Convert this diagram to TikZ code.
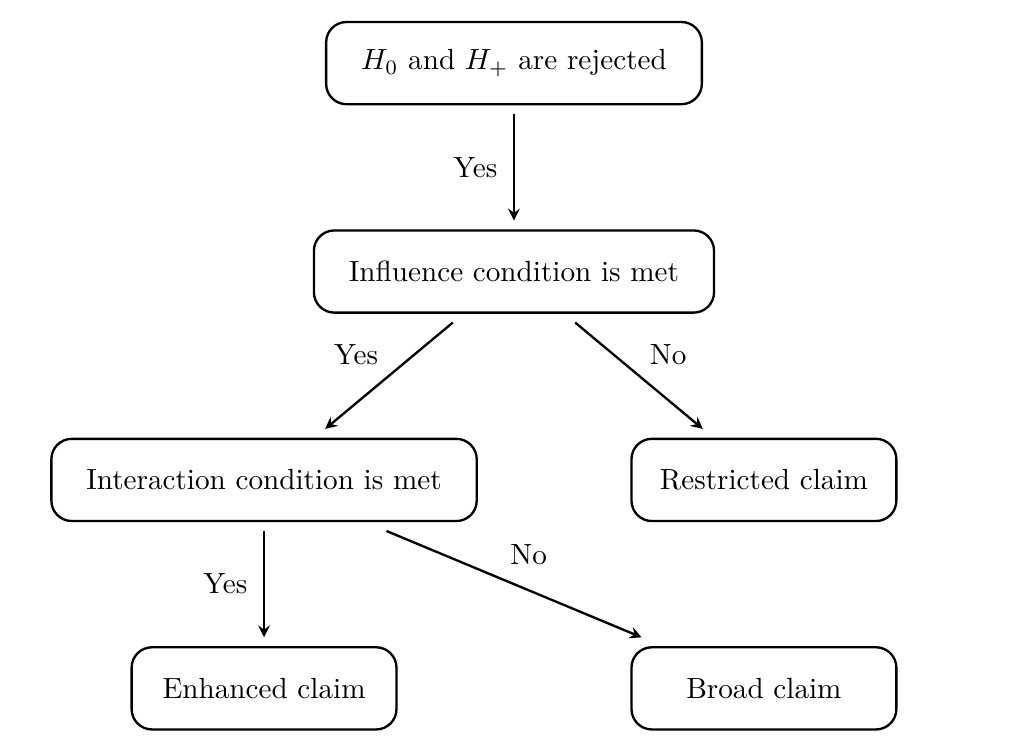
\documentclass[tikz,border=0pt]{standalone}
\usetikzlibrary{positioning}
\begin{document}
\begin{tikzpicture}[
  box/.style={draw, thick, rounded corners=7pt, minimum height=0.99cm, inner xsep=12pt, outer sep=3.4pt},
  claim/.style={box, minimum width=3.19cm, inner xsep=8pt},
  flow/.style={thick, -stealth},
  node distance=2.51cm and 3.01cm, on grid]
\useasboundingbox (-6.19,0.76) rectangle (6.13,-8.25);
\node[box](rej) at (0,0) {$H_0$ and $H_+$ are rejected};
\node[box, below=of rej](infl) {Influence condition is met};
\node[box, below left=of infl](inter) {Interaction condition is met};
\node[claim, below right=of infl](restr) {Restricted claim};
\node[claim, below=of inter](enh) {Enhanced claim};
\node[claim, below=of restr](broad) {Broad claim};
\draw[flow] (rej) -- node[midway, left=2pt]{Yes} (infl);
\draw[flow] (infl) -- node[midway, above left]{Yes} (inter);
\draw[flow] (infl) -- node[midway, above right]{No} (restr);
\draw[flow] (inter) -- node[midway, left=2pt]{Yes} (enh);
\draw[flow] (inter) -- node[midway, above=3pt, xshift=5pt]{No} (broad);
\end{tikzpicture}
\end{document}
